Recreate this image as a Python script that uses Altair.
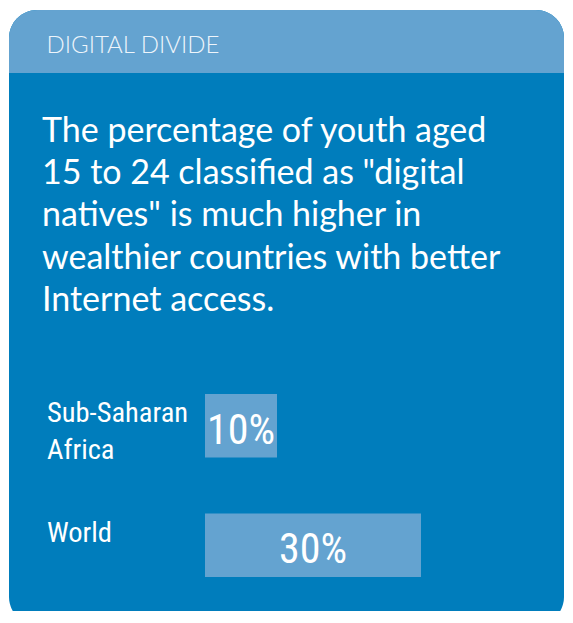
import altair as alt
import pandas as pd

# ---- data ----
regions = ["Sub-Saharan\nAfrica", "World"]
shares = [10, 30]
share_labels = ["10%", "30%"]
header_text = "DIGITAL DIVIDE"
body_lines = [
    "The percentage of youth aged",
    "15 to 24 classified as \"digital",
    "natives\" is much higher in",
    "wealthier countries with better",
    "Internet access.",
]

DARK = "#007DBC"
LIGHT = "#64A3D0"
NARROW = "Liberation Sans Narrow, Roboto Condensed, DejaVu Sans Condensed, sans-serif"
BODY = "Lato, Open Sans, sans-serif"

W, H = 557, 603

df = pd.DataFrame({"region": regions, "share": shares, "label": share_labels})
one = alt.Data(values=[{"a": 1}])

card = alt.Chart(one).mark_rect(color=DARK, cornerRadius=28).encode(
    x=alt.value(1), x2=alt.value(556), y=alt.value(2), y2=alt.value(617)
)
header = alt.Chart(one).mark_rect(
    color=LIGHT, cornerRadiusTopLeft=28, cornerRadiusTopRight=28
).encode(x=alt.value(1), x2=alt.value(556), y=alt.value(2), y2=alt.value(65))

header_lbl = alt.Chart(one).mark_text(
    text=header_text, font=BODY, fontSize=24, fontWeight=300, color="#EEF5FB",
    align="left", baseline="alphabetic"
).encode(x=alt.value(38.5), y=alt.value(45.3))

body = alt.Chart(one).mark_text(
    text=body_lines, font=BODY, fontSize=34, color="white", align="left",
    baseline="alphabetic", lineHeight=42.3
).encode(x=alt.value(34), y=alt.value(133.7))

xscale = alt.Scale(domain=[0, 100], range=[197, 917], nice=False)
yscale = alt.Scale(domain=regions, range=[386, 569], paddingInner=0.469, paddingOuter=0)

base = alt.Chart(df)
bars = base.mark_bar(color=LIGHT).encode(
    x=alt.X("share:Q", scale=xscale, axis=None),
    x2=alt.datum(0),
    y=alt.Y("region:N", scale=yscale, axis=None, sort=regions),
)
vals = base.transform_calculate(mid="datum.share / 2").mark_text(
    font=NARROW, fontSize=42, color="white", align="center",
    baseline="alphabetic", dy=18
).encode(
    x=alt.X("mid:Q", scale=xscale, axis=None),
    y=alt.Y("region:N", scale=yscale, axis=None, sort=regions),
    text="label:N",
)
cats = base.mark_text(
    font=NARROW, fontSize=28.5, color="white", align="left",
    baseline="alphabetic", dy=28, lineBreak="\n", lineHeight=37
).encode(
    x=alt.value(39),
    y=alt.Y("region:N", scale=yscale, axis=None, sort=regions, bandPosition=0),
    text="region:N",
)

chart = alt.layer(card, header, header_lbl, body, bars, vals, cats).properties(
    width=W, height=H, padding=0, autosize=alt.AutoSizeParams(type="none"),
    background="white"
).configure_view(stroke=None)

chart.save("out.html", embed_options={"renderer": "svg", "actions": False})
